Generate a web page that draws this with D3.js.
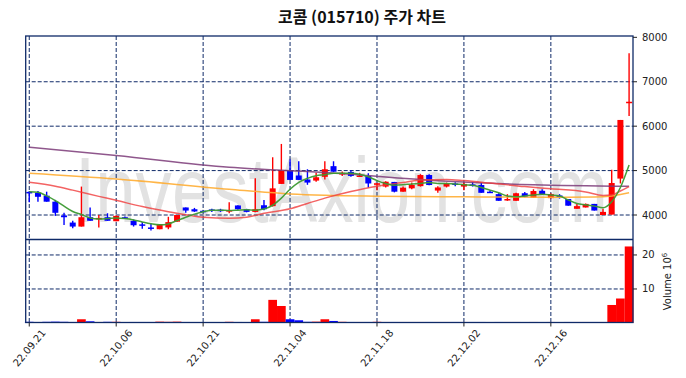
<!DOCTYPE html>
<html>
<head>
<meta charset="utf-8">
<script src="https://cdn.jsdelivr.net/npm/d3@7"></script>
<style>
body{margin:0;background:#fff}
svg{display:block}
</style>
</head>
<body>
<svg id="chart"></svg>
<script>
// trading days shown (yy.mm.dd)
const dates = ["22.09.21","22.09.22","22.09.23","22.09.26","22.09.27","22.09.28","22.09.29","22.09.30",
  "22.10.04","22.10.05","22.10.06","22.10.07","22.10.11","22.10.12","22.10.13","22.10.14",
  "22.10.17","22.10.18","22.10.19","22.10.20","22.10.21","22.10.24","22.10.25","22.10.26","22.10.27","22.10.28","22.10.31",
  "22.11.01","22.11.02","22.11.03","22.11.04","22.11.07","22.11.08","22.11.09","22.11.10","22.11.11",
  "22.11.14","22.11.15","22.11.16","22.11.17","22.11.18","22.11.21","22.11.22","22.11.23","22.11.24","22.11.25",
  "22.11.28","22.11.29","22.11.30","22.12.01","22.12.02","22.12.05","22.12.06","22.12.07","22.12.08","22.12.09",
  "22.12.12","22.12.13","22.12.14","22.12.15","22.12.16","22.12.19","22.12.20","22.12.21","22.12.22","22.12.23",
  "22.12.26","22.12.27","22.12.28","22.12.29"];
const tickIdx = [0, 10, 20, 30, 40, 50, 60];

const opens  = [4520,4500,4435,4300,3990,3830,3740,3950,3925,3950,3860,3950,3870,3790,3720,3680,3720,3850,4170,4130,
                4095,4125,4120,4080,4215,4130,4070,4220,4200,4700,5000,4890,4800,4775,4860,5100,4910,4970,4870,4880,
                4680,4640,4745,4525,4600,4650,4900,4550,4640,4710,4640,4690,4675,4525,4470,4340,4320,4490,4390,4545,
                4380,4440,4360,4140,4170,4250,4000,4010,4820,6540];
const highs  = [4540,4540,4525,4340,4050,3870,4640,4170,4000,4040,3990,3965,3900,3840,3810,3790,3960,4000,4170,4160,
                4100,4140,4140,4285,4220,4140,4825,4340,5300,5600,5250,5210,5030,4950,5210,5210,4980,5010,4950,4940,
                4715,4760,4745,4640,4730,4920,4915,4650,4730,4740,4730,4740,4730,4560,4490,4470,4500,4520,4580,4580,
                4490,4470,4360,4250,4260,4250,4140,5020,6140,7640];
const lows   = [4290,4300,4300,3980,3775,3700,3740,3870,3720,3870,3860,3910,3740,3690,3650,3680,3680,3850,4050,4070,
                4080,4070,4070,4040,4120,4060,4060,4110,4190,4700,4790,4790,4680,4750,4800,4970,4880,4860,4860,4620,
                4560,4620,4510,4525,4580,4640,4670,4500,4620,4650,4560,4640,4500,4500,4320,4320,4320,4400,4390,4450,
                4370,4370,4210,4140,4170,4100,4000,4010,4710,6230];
const closes = [4490,4410,4300,4050,3950,3740,3950,3870,3935,3870,3980,3935,3770,3775,3690,3790,3840,4000,4100,4080,
                4085,4100,4100,4110,4130,4070,4130,4130,4600,5000,4790,4790,4730,4850,5030,4975,4950,4880,4890,4710,
                4715,4750,4525,4615,4680,4900,4675,4620,4710,4690,4700,4670,4500,4500,4320,4360,4490,4410,4540,4470,
                4470,4420,4210,4200,4250,4100,4070,4720,6140,6550];
// volume, millions of shares
const volumes = [0.35,0.3,0.35,0.4,0.35,0.3,1.1,0.5,0.3,0.35,0.35,0.15,0.3,0.3,0.3,0.4,0.35,0.4,0.3,0.1,
                 0.1,0.1,0.1,0.35,0.3,0.15,1.1,0.35,6.8,5.0,1.1,0.8,0.35,0.4,1.1,0.6,0.35,0.3,0.3,0.3,
                 0.35,0.3,0.3,0.3,0.3,0.3,0.3,0.3,0.3,0.3,0.3,0.3,0.3,0.2,0.3,0.3,0.3,0.2,0.3,0.1,
                 0.3,0.1,0.3,0.3,0.3,0.3,0.3,5.3,7.2,22.5];

// moving averages
const ma5 = [4525,4510,4430,4325,4200,4080,4010,3935,3910,3920,3935,3920,3890,3845,3805,3780,3800,3875,3950,4020,
             4075,4105,4110,4100,4110,4120,4110,4135,4220,4380,4580,4735,4825,4885,4908,4940,4940,4940,4920,4860,
             4775,4710,4670,4680,4700,4710,4730,4710,4710,4700,4680,4670,4620,4560,4500,4430,4410,4430,4450,4465,
             4450,4430,4340,4260,4230,4200,4165,4300,4620,5125];
const ma20 = [[0,4735],[3,4650],[5,4560],[8,4420],[10,4330],[13,4190],[16,4075],[20,3950],[23,3925],[25,3950],
              [27,4040],[30,4140],[32,4260],[34,4380],[37,4530],[40,4650],[43,4730],[45,4790],[48,4800],[50,4775],
              [53,4720],[57,4640],[60,4590],[64,4520],[66,4440],[67,4450],[68,4540],[69,4640]];
const ma60 = [[0,4940],[10,4810],[23,4580],[30,4475],[34,4445],[40,4425],[50,4410],[60,4400],[65,4405],
              [67,4430],[68,4460],[69,4500]];
const ma120 = [[0,5525],[10,5340],[23,5074],[30,4998],[34,4955],[47,4770],[58,4680],[69,4645]];

const priceTicks = [4000, 5000, 6000, 7000, 8000];
const volTicks = [10, 20];

const W = 686, H = 378;
const plot = {left: 25.7, right: 633, top: 36, split: 239.5, bottom: 322.5};
const navy = "#0f2a68";
const upColor = "#ff0000", downColor = "#0000ff";

const svg = d3.select("#chart").attr("width", W).attr("height", H);

const x = d3.scaleLinear().domain([-0.41, 69.45]).range([plot.left, plot.right]);
const y = d3.scaleLinear().domain([3460, 8030]).range([239, 36]);
const yv = d3.scaleLinear().domain([0, 24.4]).range([323, 240]);
const step = x(1) - x(0);

const idx = d3.range(dates.length);
const isUp = i => closes[i] >= opens[i];

// title
svg.append("text")
    .attr("x", 362).attr("y", 23)
    .attr("text-anchor", "middle")
    .attr("font-family", "'Noto Sans CJK KR', sans-serif")
    .attr("font-size", 16).attr("font-weight", "bold")
    .attr("fill", "#111")
    .text("코콤 (015710) 주가 차트");

// watermark, squeezed to the width it takes in the picture
const wm = svg.append("text")
    .attr("font-family", "'Liberation Sans', Arial, sans-serif")
    .attr("font-size", 92)
    .attr("fill", "#e2e2e2")
    .text("InvestAxion.com");
const wmW = wm.node().getComputedTextLength();
wm.attr("transform", `translate(75,222) scale(${533 / wmW},1)`);

// grid
const grid = svg.append("g")
    .attr("stroke", navy).attr("stroke-width", 1).attr("stroke-dasharray", "4,2").attr("fill", "none");
grid.selectAll(".gx").data(tickIdx).join("line")
    .attr("x1", d => x(d)).attr("x2", d => x(d)).attr("y1", plot.top).attr("y2", plot.bottom);
grid.selectAll(".gy").data(priceTicks.slice(0, -1)).join("line")
    .attr("x1", plot.left).attr("x2", plot.right).attr("y1", d => y(d)).attr("y2", d => y(d));
grid.selectAll(".gv").data(volTicks).join("line")
    .attr("x1", plot.left).attr("x2", plot.right).attr("y1", d => yv(d)).attr("y2", d => yv(d));

// volume bars
svg.append("g").selectAll("rect").data(idx).join("rect")
    .attr("x", i => x(i) - step / 2)
    .attr("width", step)
    .attr("y", i => yv(volumes[i]))
    .attr("height", i => yv(0) - yv(volumes[i]))
    .attr("fill", i => isUp(i) ? upColor : downColor);

// candles
const candles = svg.append("g").selectAll("g").data(idx).join("g");
candles.append("line")
    .attr("x1", i => x(i)).attr("x2", i => x(i))
    .attr("y1", i => y(highs[i])).attr("y2", i => y(lows[i]))
    .attr("stroke", i => isUp(i) ? upColor : downColor)
    .attr("stroke-width", 1.4);
candles.append("rect")
    .attr("x", i => x(i) - 3)
    .attr("width", 6)
    .attr("y", i => y(Math.max(opens[i], closes[i])))
    .attr("height", i => Math.max(1.5, Math.abs(y(opens[i]) - y(closes[i]))))
    .attr("fill", i => isUp(i) ? upColor : downColor);

// moving average lines
const line = d3.line().x(d => x(d[0])).y(d => y(d[1])).curve(d3.curveMonotoneX);
const maLines = [
    {pts: ma120, color: "#7b3a78", opacity: 0.85},
    {pts: ma60, color: "#ffad33", opacity: 0.9},
    {pts: ma20, color: "#f03c3c", opacity: 0.8},
    {pts: ma5.map((v, i) => [i, v]), color: "#3c9a32", opacity: 0.95}
];
svg.append("g").selectAll("path").data(maLines).join("path")
    .attr("d", d => line(d.pts))
    .attr("fill", "none")
    .attr("stroke", d => d.color)
    .attr("stroke-opacity", d => d.opacity)
    .attr("stroke-width", 1.5);

// frames
svg.append("rect")
    .attr("x", plot.left).attr("y", plot.top)
    .attr("width", plot.right - plot.left).attr("height", plot.bottom - plot.top)
    .attr("fill", "none").attr("stroke", navy).attr("stroke-width", 1.3);
svg.append("line")
    .attr("x1", plot.left).attr("x2", plot.right).attr("y1", plot.split).attr("y2", plot.split)
    .attr("stroke", navy).attr("stroke-width", 1.3);

// right price axis
const axisFont = "'DejaVu Sans', sans-serif";
const pAxis = svg.append("g").selectAll("g").data(priceTicks).join("g")
    .attr("transform", d => `translate(${plot.right},${y(d)})`);
pAxis.append("line").attr("x2", 4).attr("stroke", "#222");
pAxis.append("text").attr("x", 9).attr("dy", "0.35em")
    .attr("font-family", axisFont).attr("font-size", 10).attr("fill", "#222")
    .text(d => d);

// right volume axis
const vAxis = svg.append("g").selectAll("g").data(volTicks).join("g")
    .attr("transform", d => `translate(${plot.right},${yv(d)})`);
vAxis.append("line").attr("x2", 4).attr("stroke", "#222");
vAxis.append("text").attr("x", 9).attr("dy", "0.35em")
    .attr("font-family", axisFont).attr("font-size", 10).attr("fill", "#222")
    .text(d => d);

const vLabel = svg.append("text")
    .attr("transform", `translate(671,281.5) rotate(-90)`)
    .attr("text-anchor", "middle")
    .attr("font-family", axisFont).attr("font-size", 10).attr("fill", "#222");
vLabel.append("tspan").text("Volume  10");
vLabel.append("tspan").attr("dy", -4).attr("font-size", 7).text("6");

// bottom date axis
const xAxis = svg.append("g").selectAll("g").data(tickIdx).join("g");
xAxis.append("line")
    .attr("x1", d => x(d)).attr("x2", d => x(d)).attr("y1", plot.bottom).attr("y2", plot.bottom + 4)
    .attr("stroke", "#222");
xAxis.append("text")
    .attr("transform", d => `translate(${x(d)},348) rotate(-50)`)
    .attr("text-anchor", "middle").attr("dy", "0.35em")
    .attr("font-family", axisFont).attr("font-size", 10).attr("fill", "#222")
    .text(d => dates[d]);
</script>
</body>
</html>
